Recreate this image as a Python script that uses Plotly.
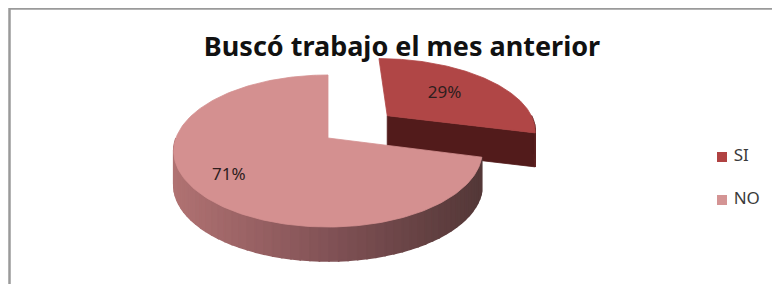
import numpy as np
import plotly.graph_objects as go

# ---- data ----
categories = ["SI", "NO"]
values = [29, 71]
pulls = [0.52, 0.0]
title_text = "Buscó trabajo el mes anterior"

# ---- style ----
top_colors = ["rgb(176,70,70)", "rgb(212,144,144)"]
legend_colors = ["rgb(176,66,66)", "rgb(212,148,148)"]
side_stops = [
    [(98, 36, 36), (80, 26, 26)],
    [(176, 114, 114), (130, 82, 86), (84, 56, 56)],
]
CX, CY, RX, RY, K, H = 328.0, 138.0, 152.0, 73.8, 0.171, 34.0
OFF = 8  # page body margin
W, HT = 780 - OFF, 284 - OFF


def proj(u, v):
    s = 1.0 / (1.0 + K * v)
    return CX + RX * u * s, CY - RY * v * s


def lerp_stops(stops, f):
    f = min(max(f, 0.0), 1.0)
    n = len(stops) - 1
    i = min(int(f * n), n - 1)
    t = f * n - i
    a, b = stops[i], stops[i + 1]
    return "rgb(%d,%d,%d)" % tuple(round(a[j] + (b[j] - a[j]) * t) for j in range(3))


fig = go.Figure()


def poly(xs, ys, color, lw=0.8):
    fig.add_trace(go.Scatter(
        x=list(xs) + [xs[0]], y=list(ys) + [ys[0]], mode="lines", fill="toself",
        fillcolor=color, line=dict(color=color, width=lw),
        hoverinfo="skip", showlegend=False))


total = sum(values)
slices = []
a = 90.0
for i, v in enumerate(values):
    span = v / total * 360.0
    a0, a1 = a, a - span
    mid = np.radians((a0 + a1) / 2)
    off = (pulls[i] * np.cos(mid), pulls[i] * np.sin(mid))
    slices.append(dict(i=i, a0=a0, a1=a1, mid=mid, off=off))
    a = a1

# back to front
order = sorted(slices, key=lambda s: -np.sin(s["mid"]))
label_pos = {}
for s in order:
    i, a0, a1, off = s["i"], s["a0"], s["a1"], s["off"]
    ox, oy = off
    # cut faces
    for ang, vis in ((a0, np.cos(np.radians(a0)) < -1e-6), (a1, np.cos(np.radians(a1)) > 1e-6)):
        if vis:
            r = np.radians(ang)
            vx, vy = proj(ox, oy)
            rx_, ry_ = proj(ox + np.cos(r), oy + np.sin(r))
            poly([vx, rx_, rx_, vx], [vy, ry_, ry_ + H, vy + H], lerp_stops(side_stops[i], 0.9))
    # outer side (front half)
    for k in (-1, 0, 1):
        lo = max(a1, -180 + 360 * k)
        hi = min(a0, 0 + 360 * k)
        if lo < hi:
            n = max(2, int((hi - lo) / 3))
            ts = np.radians(np.linspace(lo, hi, n + 1))
            pts = [proj(ox + np.cos(t), oy + np.sin(t)) for t in ts]
            for j in range(n):
                (x1, y1), (x2, y2) = pts[j], pts[j + 1]
                f = ((x1 + x2) / 2 - (CX - RX)) / (2 * RX)
                if i == 0:
                    f = j / max(n - 1, 1)
                poly([x1, x2, x2, x1], [y1, y2, y2 + H, y1 + H], lerp_stops(side_stops[i], f), lw=1.6)
    # top face
    ts = np.radians(np.linspace(a0, a1, 200))
    pts = [proj(ox, oy)] + [proj(ox + np.cos(t), oy + np.sin(t)) for t in ts]
    poly([p[0] for p in pts], [p[1] for p in pts], top_colors[i])
    fr = 0.56 if i == 0 else 0.76
    label_pos[i] = proj(ox + fr * np.cos(s["mid"]), oy + fr * np.sin(s["mid"]))

# percentage labels
for i, v in enumerate(values):
    lx, ly = label_pos[i]
    fig.add_trace(go.Scatter(
        x=[lx], y=[ly], mode="text", text=["%d%%" % round(v / total * 100)],
        textfont=dict(family="Noto Sans", size=17, color="#2e1e1e"),
        hoverinfo="skip", showlegend=False))

# legend (manual)
for i, c in enumerate(categories):
    fig.add_trace(go.Scatter(
        x=[722], y=[157 + 43 * i], mode="markers+text", text=[" " + c],
        textposition="middle right",
        marker=dict(symbol="square", size=10, color=legend_colors[i]),
        textfont=dict(family="Noto Sans", size=17, color="#3a3a3a"),
        hoverinfo="skip", showlegend=False, cliponaxis=False))

fig.update_layout(
    width=W, height=HT, margin=dict(l=0, r=0, t=0, b=0),
    paper_bgcolor="white", plot_bgcolor="white",
    xaxis=dict(range=[OFF, OFF + W], visible=False, fixedrange=True),
    yaxis=dict(range=[OFF + HT, OFF], visible=False, fixedrange=True),
    title=dict(text="<b>%s</b>" % title_text, x=(402 - OFF) / W, xanchor="center",
               y=1 - (47 - OFF) / HT, yanchor="middle",
               font=dict(family="Noto Sans", size=27, color="#111111")),
    shapes=[dict(type="rect", xref="x", yref="y",
                 x0=9.5, x1=800, y0=8.5, y1=300,
                 line=dict(color="#9a9a9a", width=2.5), layer="below")],
    showlegend=False,
)

fig.write_html("out.html")
